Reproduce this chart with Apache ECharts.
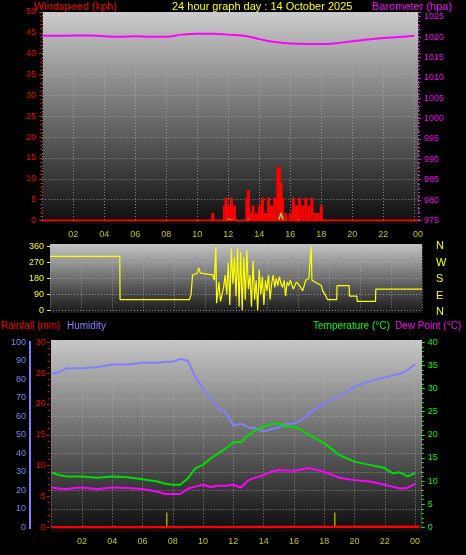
<!DOCTYPE html>
<html><head><meta charset="utf-8">
<script src="https://cdn.jsdelivr.net/npm/echarts@6/dist/echarts.min.js"></script>
<style>html,body{margin:0;background:#000}#c{width:466px;height:555px}</style>
</head><body><div id="c"></div>
<script>
// ---- data ----
const hourTicks = ['02','04','06','08','10','12','14','16','18','20','22','00'];
const baroHours = [0,1,2,3,4,5,6,7,8,9,10,11,12,13,14,15,16,17,18,19,20,21,22,23,24];
const baroValues = [1020.3,1020.3,1020.4,1020.4,1020.2,1020.1,1020.2,1020.1,1020.1,1020.6,1020.8,1020.8,1020.6,1020.3,1019.5,1018.8,1018.4,1018.3,1018.3,1018.5,1019.0,1019.4,1019.8,1020.0,1020.3];
const gustTimes = [11.0,11.75,11.85,12.0,12.2,12.4,13.2,13.3,13.5,13.6,13.8,14.0,14.2,14.4,14.6,14.8,15.0,15.2,15.3,15.4,15.5,15.7,16.0,16.2,16.4,16.6,16.8,17.0,17.2,17.4,17.6,17.8,18.0];
const gustValues = [1.8,3.6,5.5,3.6,5.5,3.6,5.5,7.3,1.8,3.6,1.8,3.6,5.5,1.8,5.5,3.6,5.5,12.9,12.5,9,5.5,1.8,1.8,5.5,3.6,5.5,3.6,5.5,3.6,5.5,1.8,1.8,3.6];
const avgTimes = [0,11.8,12.0,13.2,13.3,13.4,15.2,15.4,15.6,16.4,16.5,16.6,24.2];
const avgValues = [-0.6,-0.6,0.3,-0.6,0.4,-0.6,-0.6,1.8,-0.6,-0.6,0.3,-0.6,-0.6];
const dirTimes = [0.5,5.0,5.02,9.5,9.6,9.7,10.0,10.1,10.2,11.0,11.1,11.2,11.25,11.4,11.5,11.7,11.8,11.9,12.0,12.1,12.2,12.3,12.4,12.5,12.6,12.7,12.8,12.9,13.0,13.1,13.2,13.3,13.4,13.5,13.6,13.7,13.8,13.9,14.0,14.1,14.2,14.3,14.4,14.5,14.6,14.7,14.8,14.9,15.0,15.1,15.2,15.3,15.4,15.5,15.6,15.7,15.8,15.9,16.0,16.2,16.4,16.6,16.8,17.0,17.2,17.35,17.4,17.6,17.8,18.0,18.1,18.3,18.4,19.0,19.02,19.8,19.82,20.3,20.32,21.5,21.52,24.5];
const dirValues = [305,305,60,60,90,200,210,240,210,200,170,360,40,160,50,130,200,90,270,30,350,150,300,80,350,20,330,0,300,60,340,120,200,20,280,60,170,0,230,90,190,30,170,110,200,60,150,200,130,180,140,190,150,130,170,80,160,140,170,120,160,140,110,170,180,360,170,160,150,140,110,80,60,60,140,140,80,80,50,50,120,120];
const dirLabels = ['N','W','S','E','N'];
const tdHours = [0,0.5,1,1.5,2,3,4,5,6,7,7.5,8,8.5,9,9.5,10,10.5,11,11.5,12,12.5,13,13.5,14,14.5,15,15.5,16,16.5,17,18,19,20,21,22,22.5,23,23.5,24];
const humidity = [83,84,86,86,86,86.5,88,88,89,89,89.5,89.5,91,90,81,75,70,64,62,55,56,54,53.5,51.7,53,54,56,56,58,61.6,67,71,76,79,81,82,83,85,88];
const temperature = [11.8,11.3,11,11,11,10.7,11,10.8,10.4,9.9,9.4,9.2,9.2,10.6,12.8,13.5,14.9,16,17.1,18.4,18.4,20,21,21.8,22.3,22.5,21.8,21.8,21,20,18.2,15.6,14.2,13.5,12.8,11.7,11.9,11,11.7];
const dewPoint = [8.6,8.4,8.3,8.5,8.6,8.3,8.6,8.5,8.3,7.7,7.2,7.2,7.2,8.4,8.8,9.2,8.7,9.0,9.0,9.2,8.6,10.2,10.8,11.3,12.0,12.4,12.3,12.2,12.5,12.8,12,10.7,10.2,9.9,9.2,8.8,8.4,8.5,9.4];
const rainHours = [0,6,6,24.3];
const rainValues = [0,0,0.1,0.1];
const rainRateHours = [7.6,18.7];
const rainRateValues = [2.4,2.4];

// ---- chart ----
const F = 'Liberation Sans';
const grad = (a,b)=>new echarts.graphic.LinearGradient(0,0,0,1,[{offset:0,color:a},{offset:1,color:b}]);
const split = {show:true,lineStyle:{color:'#b0b0b0',type:[1,2],width:1,opacity:0.7}};
const lab = c=>({color:c,fontSize:9,fontFamily:F});
const pair = (xs,ys)=>xs.map((x,i)=>[x,ys[i]]);
const chart = echarts.init(document.getElementById('c'));
const xFmt = v=>{const h=Math.round(v)%24;return (h<10?'0':'')+h;};
const xBase = (gi,min,max,show)=>({type:'value',gridIndex:gi,min,max,interval:2,
  axisLine:{show:false},axisTick:{show:false},splitLine:split,
  axisLabel:{show:show,color:'#c8c800',fontSize:9,fontFamily:F,margin:10,formatter:xFmt,showMinLabel:false,showMaxLabel:show&&gi==0?true:false}});
chart.setOption({
  backgroundColor:'#000',animation:false,
  graphic:[
    {type:'rect',z:-10,shape:{x:43,y:12,width:375,height:212},style:{fill:grad('#cccccc','#0c0c0c')}},
    {type:'rect',z:-10,shape:{x:50,y:244,width:372,height:69},style:{fill:grad('#c4c4c4','#161616')}},
    {type:'rect',z:-10,shape:{x:51,y:340,width:371,height:192},style:{fill:grad('#c8c8c8','#0c0c0c')}},
    {type:'line',shape:{x1:30,y1:341,x2:30,y2:529},style:{stroke:'#8080ff',lineWidth:2}},
    {type:'text',left:34,top:1,style:{text:'Windspeed (kph)',fill:'#ff0000',font:'11px '+F}},
    {type:'text',left:172,top:1,style:{text:'24 hour graph day : 14 October 2025',fill:'#ffff00',font:'11px '+F}},
    {type:'text',left:372,top:1,style:{text:'Barometer (hpa)',fill:'#ff00ff',font:'11px '+F}},
    ...dirLabels.map((t,i)=>({type:'text',left:436,top:[240,257,273,290,306][i],style:{text:t,fill:'#ffff00',font:'11px '+F}})),
    {type:'text',left:1,top:321,style:{text:'Rainfall (mm)',fill:'#ff0000',font:'10px '+F}},
    {type:'text',left:67,top:321,style:{text:'Humidity',fill:'#8080ff',font:'10px '+F}},
    {type:'text',left:313,top:321,style:{text:'Temperature (°C)',fill:'#00ff00',font:'10px '+F}},
    {type:'text',left:395,top:321,style:{text:'Dew Point (°C)',fill:'#ff00ff',font:'10px '+F}}
  ],
  grid:[
    {left:42.3,top:12,width:375.7,height:208.5},
    {left:50,top:246.7,width:372,height:63.6},
    {left:51.7,top:342.3,width:370,height:185}
  ],
  xAxis:[xBase(0,0,24.24,true),xBase(1,0.5,24.5,false),xBase(2,0,24.44,true)],
  yAxis:[
    {type:'value',gridIndex:0,min:0,max:50,interval:5,position:'left',splitLine:split,
     axisLine:{show:false},axisTick:{show:true,length:3,lineStyle:{color:'#ff0000'}},
     minorTick:{show:true,splitNumber:5,length:2,lineStyle:{color:'#ff0000'}},axisLabel:{...lab('#ff0000'),margin:6}},
    {type:'value',gridIndex:0,min:975,max:1026.15,interval:5,position:'right',splitLine:{show:false},
     axisLine:{show:false},axisTick:{show:true,length:3,lineStyle:{color:'#ff00ff'}},
     minorTick:{show:true,splitNumber:5,length:2,lineStyle:{color:'#ff00ff'}},axisLabel:{...lab('#ff00ff'),margin:6,showMaxLabel:false,formatter:v=>String(Math.round(v))}},
    {type:'value',gridIndex:1,min:0,max:360,interval:90,position:'left',splitLine:split,
     axisLine:{show:false},axisTick:{show:true,length:3,lineStyle:{color:'#ffff00'}},axisLabel:{...lab('#ffff00'),margin:6}},
    {type:'value',gridIndex:2,min:0,max:100,interval:10,position:'left',offset:21.7,splitLine:split,
     axisLine:{show:false},axisTick:{show:false},axisLabel:{...lab('#8080ff'),margin:4}},
    {type:'value',gridIndex:2,min:0,max:30,interval:5,position:'left',offset:2,splitLine:{show:false},
     axisLine:{show:false},axisTick:{show:true,length:3,lineStyle:{color:'#ff0000'}},
     minorTick:{show:true,splitNumber:5,length:2,lineStyle:{color:'#ff0000'}},axisLabel:{...lab('#ff0000'),margin:4}},
    {type:'value',gridIndex:2,min:0,max:40,interval:5,position:'right',splitLine:{show:false},
     axisLine:{show:false},axisTick:{show:true,length:3,lineStyle:{color:'#00ff00'}},
     minorTick:{show:true,splitNumber:5,length:2,lineStyle:{color:'#00ff00'}},axisLabel:{...lab('#00ff00'),margin:6}}
  ],
  series:[
    {type:'line',xAxisIndex:0,yAxisIndex:1,data:pair(baroHours,baroValues),smooth:true,symbol:'none',lineStyle:{color:'#ff00ff',width:2}},
    {type:'line',xAxisIndex:0,yAxisIndex:0,data:pair(avgTimes,avgValues),symbol:'none',lineStyle:{color:'#70e070',width:1.5}},
    {type:'line',xAxisIndex:0,yAxisIndex:0,data:[[0,0],[24.24,0]],symbol:'none',z:3,lineStyle:{color:'#ff0000',width:2}},
    {type:'bar',xAxisIndex:0,yAxisIndex:0,data:pair(gustTimes,gustValues),barWidth:3,itemStyle:{color:'#ff0000'}},
    {type:'line',xAxisIndex:1,yAxisIndex:2,data:pair(dirTimes,dirValues),symbol:'none',lineStyle:{color:'#ffff00',width:1.2}},
    {type:'line',xAxisIndex:2,yAxisIndex:3,data:pair(tdHours,humidity),symbol:'none',lineStyle:{color:'#8080ff',width:2}},
    {type:'line',xAxisIndex:2,yAxisIndex:5,data:pair(tdHours,temperature),symbol:'none',lineStyle:{color:'#00dd00',width:2}},
    {type:'line',xAxisIndex:2,yAxisIndex:5,data:pair(tdHours,dewPoint),symbol:'none',lineStyle:{color:'#ff00ff',width:2}},
    {type:'line',xAxisIndex:2,yAxisIndex:4,data:pair(rainHours,rainValues),symbol:'none',lineStyle:{color:'#ff0000',width:2.5}},
    {type:'bar',xAxisIndex:2,yAxisIndex:4,data:pair(rainRateHours,rainRateValues),barWidth:1.5,itemStyle:{color:'#b0a000'}}
  ]
});
</script></body></html>
